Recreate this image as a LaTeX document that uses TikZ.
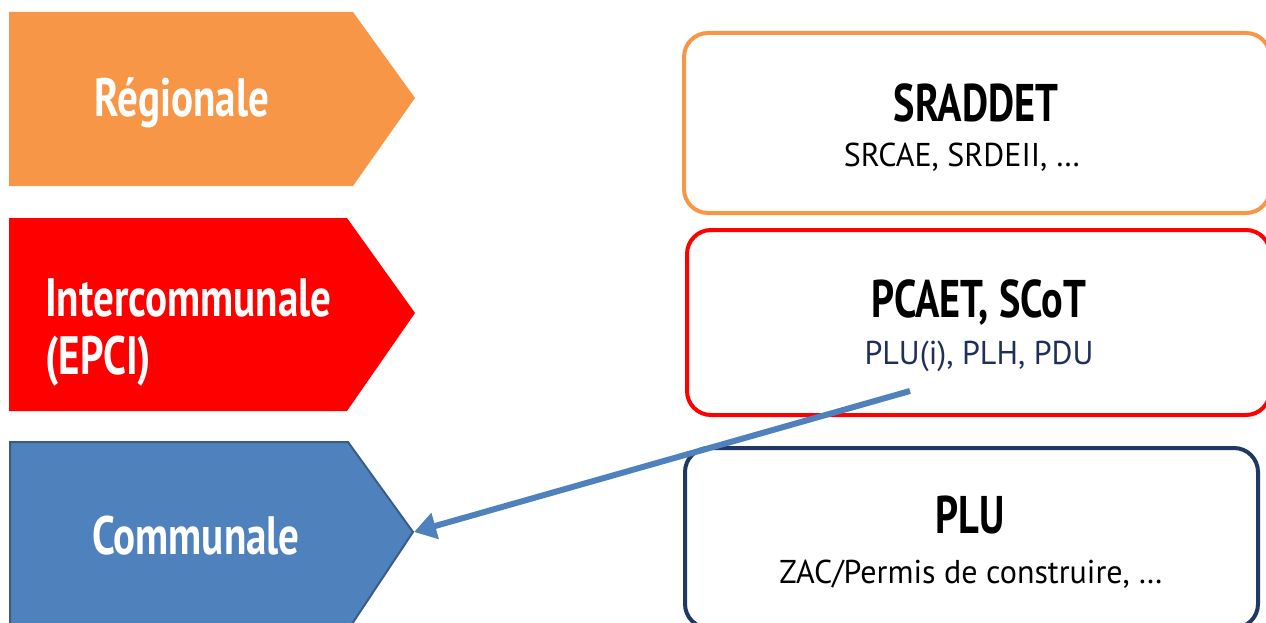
\documentclass[tikz,border=0pt]{standalone}
\usepackage{fontspec}
\setmainfont{PT Sans}[FakeStretch=0.76]
\newfontfamily\subfont{PT Sans}[FakeStretch=0.97]
\usetikzlibrary{arrows.meta}
\definecolor{orng}{HTML}{F79646}
\definecolor{rd}{HTML}{FF0000}
\definecolor{blu}{HTML}{4F81BD}
\definecolor{bludark}{HTML}{385D8A}
\definecolor{navy}{HTML}{1F3864}
\definecolor{subnavy}{HTML}{1F2F5A}
\tikzset{
  lvl/.style={inner sep=0pt, text=white, font=\fontsize{54}{58}\selectfont\bfseries, align=left},
  planbox/.style={rounded corners=24pt, line width=4pt, fill=white},
  ttl/.style={inner sep=0pt, font=\fontsize{53}{58}\selectfont\bfseries, text=black},
  subt/.style={inner sep=0pt, font=\subfont\fontsize{33}{38}\selectfont, text=black},
  link/.style={draw=blu, line width=6pt, -{Triangle[length=22pt,width=26pt]}}
}
\begin{document}
\begin{tikzpicture}[x=1pt,y=-1pt]
\useasboundingbox (0,0) rectangle (1266,623);
% level arrows
\fill[orng] (9,12) -- (353,12) -- (415,98) -- (353,186) -- (9,186) -- cycle;
\fill[rd] (9,218) -- (347,218) -- (415,313) -- (347,411) -- (9,411) -- cycle;
\filldraw[fill=blu, draw=bludark, line width=2pt] (10,442) -- (348,442) -- (413,532) -- (348,630) -- (10,630) -- cycle;
\node[lvl] (reg) at (182,103) {Régionale};
\node[lvl, anchor=west] (inter) at (45,333) {Intercommunale\\(EPCI)};
\node[lvl] (com) at (196,536) {Communale};
% plan boxes
\draw[planbox, draw=orng] (684,33) rectangle (1270,213);
\draw[planbox, draw=rd] (687,230) rectangle (1270,415);
\draw[planbox, draw=navy] (685,448) rectangle (1258,628);
\node[ttl] (sraddet) at (976,103) {SRADDET};
\node[subt] (srcae) at (962,157) {SRCAE, SRDEII, …};
\node[ttl] (pcaet) at (979,302) {PCAET, SCoT};
\node[subt, text=subnavy] (plui) at (979,356) {PLU(i), PLH, PDU};
\node[ttl] (plu) at (970,515) {PLU};
\node[subt] (zac) at (971,574) {ZAC/Permis de construire, …};
% connector
\coordinate (start) at (910,391);
\coordinate (comtip) at (414,532);
\draw[link] (start) -- (comtip);
\end{tikzpicture}
\end{document}
